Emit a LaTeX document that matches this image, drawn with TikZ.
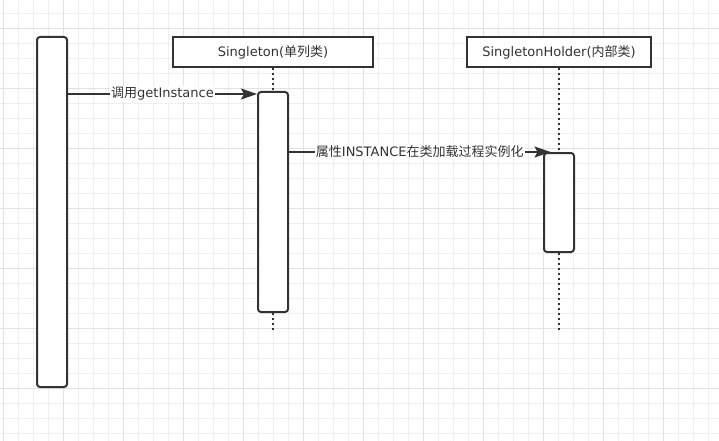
\documentclass[tikz,border=0pt]{standalone}
\usepackage{fontspec}
\setmainfont{DejaVu Sans}
\newfontfamily\cjk{Noto Sans CJK SC}
\usetikzlibrary{arrows.meta}
\definecolor{ink}{HTML}{333333}
\definecolor{gridminor}{HTML}{EFEFEF}
\definecolor{gridmajor}{HTML}{E2E2E2}

\begin{document}
\begin{tikzpicture}[x=1pt,y=-1pt]
	\tikzstyle{every node}+=[inner sep=0pt, font=\fontsize{13}{15}\selectfont, text=ink]
	\tikzstyle{head}=[draw=ink, line width=2pt, fill=white, minimum height=30pt]
	\tikzstyle{bar}=[draw=ink, line width=2pt, fill=white, rounded corners=3pt, minimum width=30pt]
	\tikzstyle{life}=[ink, line width=1.6pt, dash pattern=on 2pt off 3pt]
	\tikzstyle{msg}=[ink, line width=1.8pt, -{Stealth[length=16pt,width=11pt,inset=3pt]}]
	\tikzstyle{lbl}=[fill=white, inner sep=1pt]
	\useasboundingbox (0,0) rectangle (719,441);
	\fill [white] (0,0) rectangle (719,441);
	\foreach \x in {3.3,18.3,...,718} \draw [gridminor, line width=1pt] (\x,0) -- (\x,441);
	\foreach \y in {13.3,28.3,...,440} \draw [gridminor, line width=1pt] (0,\y) -- (719,\y);
	\foreach \x in {3.3,63.3,...,718} \draw [gridmajor, line width=1pt] (\x,0) -- (\x,441);
	\foreach \y in {28.3,88.3,...,440} \draw [gridmajor, line width=1pt] (0,\y) -- (719,\y);
	\node [head, minimum width=200pt] (singleton) at (273,52) {Singleton({\cjk 单列类})};
	\node [head, minimum width=184pt] (holder) at (559,52) {SingletonHolder({\cjk 内部类})};
	\coordinate (singend) at (273,332);
	\coordinate (holderend) at (559,332);
	\draw [life] (singleton.south) -- (singend);
	\draw [life] (holder.south) -- (holderend);
	\node [bar, minimum height=350pt] (caller) at (52,212) {};
	\node [bar, minimum height=220pt] (singact) at (273,202) {};
	\node [bar, minimum height=99pt] (holderact) at (559,202.5) {};
	\draw [msg] ([yshift=-3pt]caller.east |- singact.north) -- ([yshift=-3pt]singact.north west) node [midway, lbl] {{\cjk 调用}getInstance};
	\draw [msg] (singact.east |- holderact.north) -- ([xshift=7.5pt]holderact.north west) node [midway, lbl] {{\cjk 属性}INSTANCE{\cjk 在类加载过程实例化}};
\end{tikzpicture}
\end{document}
